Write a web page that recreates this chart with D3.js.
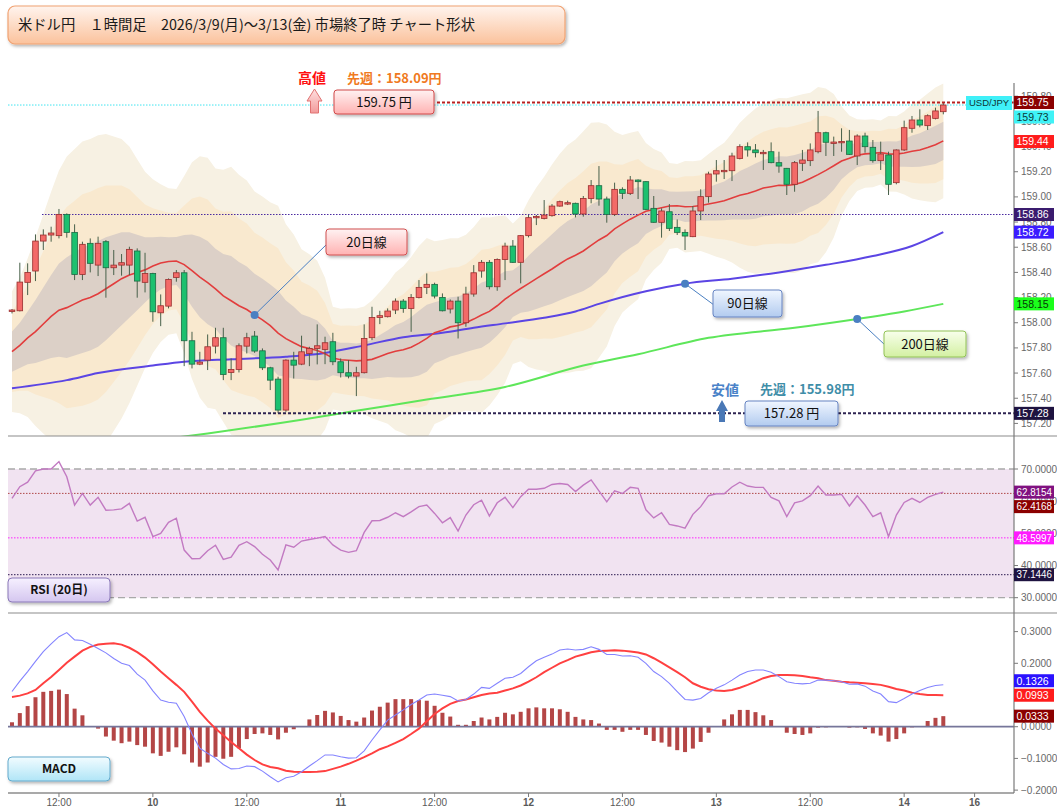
<!DOCTYPE html>
<html>
<head>
<meta charset="utf-8">
<script src="https://cdn.jsdelivr.net/npm/d3@7/dist/d3.min.js"></script>
<style>
html,body{margin:0;padding:0;background:#fff;}
svg{display:block;font-family:"Liberation Sans",Arial,sans-serif;}
</style>
</head>
<body>
<svg id="chart" width="1057" height="811"></svg>
<script>
// ================= DATA =================
const titleText = "米ドル円　１時間足　2026/3/9(月)～3/13(金) 市場終了時 チャート形状";

// hourly candles, 3/9 06:00 .. 3/14 05:00 (JST)
const openP = [158.090,158.095,158.321,158.411,158.649,158.697,158.692,158.861,158.718,158.384,
158.631,158.458,158.644,158.437,158.458,158.458,158.570,158.321,158.392,158.079,
158.132,158.360,158.397,157.857,157.671,157.703,157.814,157.881,157.605,157.629,
157.814,157.894,157.777,157.642,157.552,157.306,157.703,157.671,157.756,157.796,
157.788,157.849,157.690,157.603,157.576,157.603,157.881,158.042,158.048,158.101,
158.172,158.114,158.201,158.281,158.305,158.201,158.109,158.172,158.000,158.228,
158.411,158.480,158.286,158.503,158.609,158.480,158.692,158.835,158.829,158.851,
158.927,158.949,158.949,158.864,158.988,159.089,158.983,158.861,159.060,159.028,
159.134,159.121,158.909,158.798,158.882,158.758,158.718,158.684,158.888,159.002,
159.182,159.206,159.208,159.306,159.399,159.373,159.349,159.359,159.272,159.227,
159.100,159.267,159.288,159.359,159.510,159.431,159.431,159.444,159.325,159.484,
159.394,159.288,159.333,159.113,159.373,159.545,159.611,159.566,159.624,159.677];
const highP = [158.109,158.477,158.472,158.702,158.742,158.763,158.904,158.869,158.782,158.644,
158.670,158.684,158.657,158.578,158.546,158.604,158.591,158.556,158.397,158.225,
158.352,158.419,158.419,157.928,157.769,157.907,157.960,157.960,157.716,157.836,
157.920,157.934,157.796,157.650,157.571,157.709,157.769,157.897,157.809,157.987,
157.889,157.920,157.716,157.703,157.650,157.987,158.127,158.095,158.114,158.193,
158.188,158.228,158.339,158.392,158.318,158.233,158.185,158.207,158.286,158.458,
158.498,158.498,158.511,158.636,158.657,158.697,158.856,158.856,158.975,158.943,
158.970,158.970,158.954,159.007,159.134,159.245,159.002,159.113,159.076,159.166,
159.139,159.125,159.007,158.909,158.943,158.821,158.742,158.927,159.060,159.200,
159.293,159.293,159.351,159.418,159.433,159.420,159.373,159.433,159.359,159.230,
159.285,159.373,159.425,159.683,159.518,159.479,159.545,159.532,159.497,159.510,
159.452,159.439,159.359,159.378,159.606,159.643,159.696,159.656,159.709,159.750];
const lowP = [158.074,158.090,158.220,158.331,158.578,158.644,158.670,158.676,158.339,158.339,
158.400,158.371,158.199,158.379,158.374,158.379,158.199,158.241,158.008,157.973,
158.114,158.326,157.655,157.637,157.663,157.624,157.756,157.544,157.544,157.605,
157.756,157.761,157.624,157.465,157.282,157.292,157.557,157.663,157.655,157.669,
157.671,157.663,157.565,157.558,157.417,157.597,157.862,157.989,158.042,158.069,
158.079,157.928,158.193,158.228,158.193,158.090,158.074,157.875,157.968,158.207,
158.358,158.265,158.254,158.339,158.475,158.313,158.678,158.776,158.821,158.843,
158.922,158.935,158.837,158.843,158.949,158.930,158.795,158.848,158.983,159.015,
158.983,158.896,158.795,158.676,158.729,158.697,158.578,158.680,158.816,158.954,
159.121,159.142,159.126,159.298,159.320,159.314,159.214,159.267,159.192,159.015,
159.041,159.206,159.245,159.346,159.325,159.325,159.359,159.333,159.253,159.351,
159.272,159.214,159.015,159.100,159.365,159.510,159.553,159.532,159.616,159.656];
const closeP = [158.101,158.323,158.400,158.649,158.697,158.713,158.861,158.718,158.384,158.623,
158.472,158.631,158.437,158.458,158.477,158.583,158.331,158.392,158.087,158.135,
158.344,158.397,157.857,157.671,157.687,157.809,157.881,157.589,157.629,157.817,
157.881,157.775,157.642,157.544,157.306,157.703,157.663,157.769,157.796,157.817,
157.841,157.690,157.603,157.576,157.603,157.875,158.042,158.056,158.093,158.172,
158.114,158.201,158.281,158.305,158.212,158.095,158.172,158.000,158.228,158.397,
158.480,158.286,158.503,158.609,158.480,158.692,158.835,158.845,158.856,158.927,
158.962,158.954,158.864,158.988,159.089,158.983,158.861,159.060,159.028,159.134,
159.121,158.901,158.798,158.888,158.750,158.718,158.689,158.888,159.002,159.182,
159.208,159.211,159.325,159.399,159.373,159.351,159.354,159.272,159.245,159.100,
159.272,159.293,159.373,159.510,159.434,159.436,159.441,159.338,159.484,159.399,
159.288,159.341,159.100,159.373,159.550,159.611,159.571,159.645,159.683,159.730];

// 20-period line and band width (1 sigma) read per candle
const ma20 = [157.77,157.82,157.88,157.93,157.99,158.05,158.10,158.12,158.15,158.18,
158.20,158.23,158.27,158.31,158.35,158.38,158.40,158.42,158.45,158.474,
158.486,158.490,158.462,158.414,158.363,158.318,158.269,158.213,158.175,158.135,
158.105,158.062,158.023,157.977,157.918,157.874,157.841,157.810,157.795,157.779,
157.754,157.719,157.706,157.702,157.697,157.701,157.709,157.732,157.755,157.773,
157.785,157.806,157.838,157.876,157.921,157.941,157.967,157.978,158.000,158.029,
158.061,158.090,158.135,158.187,158.231,158.272,158.311,158.351,158.389,158.427,
158.469,158.507,158.536,158.570,158.614,158.658,158.693,158.746,158.786,158.823,
158.855,158.886,158.900,158.914,158.928,158.929,158.922,158.924,158.931,158.944,
158.956,158.969,158.992,159.013,159.027,159.046,159.070,159.081,159.092,159.090,
159.098,159.117,159.146,159.177,159.211,159.247,159.285,159.307,159.331,159.342,
159.346,159.353,159.342,159.340,159.349,159.362,159.373,159.392,159.414,159.445];
const bbSigma = [0.16,0.18,0.21,0.25,0.29,0.33,0.37,0.40,0.41,0.42,
0.42,0.42,0.41,0.39,0.37,0.34,0.30,0.26,0.23,0.209,
0.194,0.191,0.235,0.287,0.320,0.331,0.319,0.334,0.355,0.347,
0.342,0.327,0.327,0.327,0.337,0.303,0.287,0.258,0.250,0.238,
0.201,0.136,0.135,0.138,0.139,0.143,0.156,0.171,0.186,0.209,
0.221,0.239,0.257,0.266,0.242,0.239,0.235,0.231,0.233,0.244,
0.259,0.249,0.237,0.222,0.186,0.193,0.221,0.241,0.257,0.277,
0.291,0.302,0.307,0.317,0.325,0.312,0.294,0.257,0.235,0.229,
0.223,0.181,0.160,0.146,0.114,0.111,0.121,0.120,0.120,0.132,
0.144,0.154,0.171,0.192,0.207,0.219,0.224,0.228,0.231,0.231,
0.234,0.233,0.227,0.232,0.217,0.190,0.145,0.113,0.095,0.090,
0.090,0.085,0.100,0.100,0.110,0.125,0.133,0.143,0.152,0.152];

// 90 / 200 lines (sampled along the curve)
const ma90Idx = [0,7,11,18,22,28,35,40,45,50,55,59,63,68,72,75,81,86,92,98,104,110,115,119];
const ma90Val = [157.48,157.544,157.60,157.66,157.69,157.71,157.73,157.76,157.82,157.885,157.92,157.96,157.995,158.04,158.09,158.15,158.25,158.31,158.35,158.40,158.46,158.53,158.61,158.72];
const ma200Idx = [15,25,37,44,53,63,73,80,89,100,108,114,119];
const ma200Val = [157.04,157.12,157.23,157.30,157.39,157.49,157.66,157.75,157.88,157.96,158.03,158.09,158.15];

// RSI(20)
const rsi = [60.9,64.5,65.9,69.4,70.0,70.0,72.3,67.6,58.8,62.4,
58.8,61.2,57.2,57.3,57.6,59.3,53.8,55.0,49.0,50.0,
53.4,54.7,44.8,42.1,42.2,44.6,46.3,41.9,42.6,46.3,
47.4,45.9,43.5,41.7,38.6,46.4,45.7,47.6,48.1,48.5,
49.0,46.4,44.8,44.1,44.6,50.3,53.9,54.0,55.0,56.4,
55.2,56.7,58.3,58.8,56.2,53.3,54.9,50.7,55.7,58.9,
60.3,55.4,59.5,61.2,58.0,61.4,63.7,63.7,64.0,65.2,
65.5,65.2,63.0,65.0,66.6,63.2,59.8,63.2,62.4,64.3,
64.0,57.3,54.8,56.4,52.8,52.3,51.6,55.9,58.3,61.7,
62.3,62.3,64.4,65.9,64.7,64.3,64.3,61.2,60.1,55.2,
59.5,60.1,61.7,64.7,61.9,61.9,62.1,58.5,61.7,58.8,
55.2,56.4,49.0,55.7,59.6,60.9,59.6,61.2,62.1,62.8];

// MACD
const macd = [0.111,0.144,0.174,0.206,0.237,0.261,0.284,0.297,0.274,0.272,
0.260,0.247,0.233,0.215,0.200,0.193,0.166,0.147,0.113,0.084,
0.077,0.074,0.032,-0.023,-0.068,-0.084,-0.099,-0.119,-0.133,-0.132,
-0.124,-0.126,-0.140,-0.158,-0.174,-0.161,-0.156,-0.142,-0.124,-0.107,
-0.089,-0.089,-0.095,-0.099,-0.098,-0.076,-0.042,-0.010,0.021,0.037,
0.053,0.070,0.084,0.100,0.103,0.099,0.095,0.081,0.086,0.103,
0.124,0.121,0.137,0.153,0.156,0.168,0.189,0.208,0.219,0.229,
0.242,0.245,0.242,0.244,0.252,0.244,0.228,0.228,0.223,0.224,
0.219,0.200,0.174,0.158,0.137,0.111,0.086,0.084,0.089,0.107,
0.121,0.132,0.147,0.163,0.174,0.179,0.179,0.172,0.158,0.142,
0.137,0.135,0.137,0.147,0.147,0.145,0.142,0.134,0.135,0.128,
0.113,0.103,0.079,0.076,0.089,0.103,0.114,0.124,0.130,0.1326];
const signal = [0.094,0.098,0.105,0.116,0.137,0.157,0.179,0.202,0.221,0.240,
0.252,0.259,0.262,0.263,0.259,0.249,0.235,0.218,0.197,0.174,
0.153,0.132,0.110,0.079,0.047,0.019,-0.006,-0.027,-0.048,-0.068,
-0.088,-0.105,-0.119,-0.127,-0.131,-0.139,-0.142,-0.143,-0.143,-0.142,
-0.140,-0.133,-0.126,-0.117,-0.107,-0.096,-0.084,-0.071,-0.062,-0.051,
-0.039,-0.023,-0.006,0.017,0.040,0.058,0.072,0.081,0.086,0.093,
0.100,0.105,0.107,0.114,0.121,0.130,0.142,0.156,0.172,0.186,
0.200,0.210,0.221,0.228,0.235,0.239,0.240,0.241,0.240,0.237,
0.234,0.228,0.216,0.202,0.187,0.172,0.156,0.137,0.126,0.118,
0.114,0.113,0.116,0.123,0.132,0.142,0.153,0.160,0.163,0.163,
0.162,0.160,0.156,0.153,0.147,0.145,0.142,0.140,0.139,0.137,
0.135,0.132,0.126,0.119,0.114,0.107,0.103,0.100,0.100,0.0993];
const hist = [0.014,0.043,0.065,0.093,0.110,0.113,0.117,0.103,0.057,0.036,
0.002,-0.006,-0.031,-0.044,-0.052,-0.047,-0.058,-0.063,-0.084,-0.092,
-0.079,-0.065,-0.087,-0.113,-0.126,-0.113,-0.095,-0.101,-0.095,-0.068,
-0.039,-0.023,-0.021,-0.026,-0.040,-0.019,-0.008,0.001,0.023,0.037,
0.050,0.045,0.034,0.021,0.016,0.029,0.051,0.063,0.076,0.087,
0.087,0.087,0.084,0.082,0.066,0.044,0.032,0.006,0.006,0.018,
0.029,0.023,0.031,0.044,0.039,0.047,0.058,0.061,0.058,0.058,
0.055,0.047,0.031,0.023,0.021,0.010,-0.010,-0.010,-0.016,-0.010,
-0.010,-0.026,-0.045,-0.050,-0.063,-0.074,-0.080,-0.069,-0.048,-0.019,
0.001,0.023,0.039,0.053,0.053,0.046,0.036,0.021,0.001,-0.019,
-0.023,-0.026,-0.021,-0.003,-0.002,0.000,0.000,-0.003,-0.002,-0.007,
-0.021,-0.028,-0.047,-0.039,-0.021,-0.002,0.002,0.018,0.028,0.0333];

// axes
const xTickIdx  = [6,18,30,42,54,66,78,90,102,114,123];
const xTickText = ["12:00","10","12:00","11","12:00","12","12:00","13","12:00","14","16"];
const priceTicks = [157.2,157.4,157.6,157.8,158.0,158.2,158.4,158.6,158.8,159.0,159.2,159.4,159.6,159.8];
const rsiTicks = [30,40,50,60,70];
const macdTicks = [-0.2,-0.1,0,0.1,0.2,0.3];

// reference levels / last values
const priceMarks = [159.75,159.73,159.44,158.86,158.72,158.15,157.28];
const rsiMarks = [62.8154,62.4168,48.5997,37.1446];
const macdMarks = [0.0993,0.1326,0.0333];
const rsiLevels = [62.4168,48.5997,37.1446];
const weekHigh = 159.75, weekLow = 157.28, lastPrice = 159.73, refLevel = 158.86;
const prevHigh = "158.09", prevLow = "155.98";
const symbol = "USD/JPY";

// ================= LAYOUT / STYLE =================
const L = 8, R = 1014, TOP = 83, MAIN_B = 436, RSI_B = 613, MACD_B = 793;
const svg = d3.select("#chart");
const defs = svg.append("defs");
const JP = "'Noto Sans CJK JP','Noto Sans',sans-serif";

function grad(id, c1, c2) {
  const g = defs.append("linearGradient").attr("id", id)
    .attr("x1", 0).attr("y1", 0).attr("x2", 0).attr("y2", 1);
  g.append("stop").attr("offset", "0%").attr("stop-color", c1);
  g.append("stop").attr("offset", "100%").attr("stop-color", c2);
}
grad("gTitle", "#fff4ee", "#fbc29c");
grad("gPink", "#fff2f2", "#ffb2b2");
grad("gBlue", "#f0f6ff", "#b2cbef");
grad("gGreen", "#f8ffec", "#d3f0a2");
grad("gLav", "#f6f0ff", "#d4c6ef");
grad("gCyan", "#f2fcff", "#b0e5f7");
grad("gArrow", "#ffe0e0", "#f29a9a");
const flt = defs.append("filter").attr("id", "sh")
  .attr("x", "-10%").attr("y", "-20%").attr("width", "130%").attr("height", "160%");
flt.append("feDropShadow").attr("dx", 1.5).attr("dy", 2).attr("stdDeviation", 1.4)
  .attr("flood-color", "#000").attr("flood-opacity", 0.28);
function clip(id, y0, y1) {
  defs.append("clipPath").attr("id", id).append("rect")
    .attr("x", L).attr("y", y0).attr("width", R - L).attr("height", y1 - y0);
}
clip("cMain", TOP, MAIN_B); clip("cRsi", MAIN_B, RSI_B); clip("cMacd", RSI_B, MACD_B);

// scales
const N = closeP.length;
const I = d3.range(N);
const x = d3.scaleLinear().domain([0, 119]).range([12, 943.3]);
const y = d3.scaleLinear().domain([157.10, 159.905]).range([MAIN_B, TOP]);
const yR = d3.scaleLinear().domain([25.24, 80.26]).range([RSI_B, MAIN_B]);
const yM = d3.scaleLinear().domain([-0.2091, 0.3587]).range([MACD_B, RSI_B]);

// ---------- MAIN PANEL ----------
const gm = svg.append("g").attr("clip-path", "url(#cMain)");
[[3, "#f7f1e3"], [2, "#f9e9cf"], [1, "#dcd0c7"]].forEach(([k, c]) => {
  gm.append("path").datum(I).attr("fill", c)
    .attr("d", d3.area().x(i => x(i))
      .y0(i => y(ma20[i] - k * bbSigma[i]))
      .y1(i => y(ma20[i] + k * bbSigma[i])));
});
// reference dotted lines
gm.append("line").attr("x1", 42).attr("x2", R).attr("y1", y(refLevel)).attr("y2", y(refLevel))
  .attr("stroke", "#4a2aa0").attr("stroke-width", 1).attr("stroke-dasharray", "1.5,1.5");
gm.append("line").attr("x1", L).attr("x2", 966).attr("y1", y(lastPrice)).attr("y2", y(lastPrice))
  .attr("stroke", "#3fe4f0").attr("stroke-width", 1).attr("stroke-dasharray", "1.5,1.5");

const lineXY = d3.line().curve(d3.curveMonotoneX);
gm.append("path").attr("fill", "none").attr("stroke", "#5ee65a").attr("stroke-width", 2)
  .attr("d", lineXY(ma200Idx.map((d, j) => [x(d), y(ma200Val[j])])));
gm.append("path").attr("fill", "none").attr("stroke", "#5b45e4").attr("stroke-width", 2)
  .attr("d", lineXY(ma90Idx.map((d, j) => [x(d), y(ma90Val[j])])));
gm.append("path").datum(I).attr("fill", "none").attr("stroke", "#e23d3d").attr("stroke-width", 1.6)
  .attr("d", d3.line().x(i => x(i)).y(i => y(ma20[i])));

// candles
const bw = 5.6;
const cg = gm.append("g");
cg.selectAll("line.w").data(I).join("line").attr("class", "w")
  .attr("x1", i => x(i)).attr("x2", i => x(i))
  .attr("y1", i => y(highP[i])).attr("y2", i => y(lowP[i]))
  .attr("stroke", "#48604a").attr("stroke-width", 1);
cg.selectAll("rect.b").data(I).join("rect").attr("class", "b")
  .attr("x", i => x(i) - bw / 2).attr("width", bw)
  .attr("y", i => y(Math.max(openP[i], closeP[i])))
  .attr("height", i => Math.max(1.4, Math.abs(y(openP[i]) - y(closeP[i]))))
  .attr("fill", i => closeP[i] >= openP[i] ? "#f36a68" : "#1cc06f")
  .attr("stroke", i => closeP[i] >= openP[i] ? "#9a2e2e" : "#1d6a44")
  .attr("stroke-width", 0.8);

// high / low dashed lines
gm.append("line").attr("x1", 437).attr("x2", R).attr("y1", y(weekHigh)).attr("y2", y(weekHigh))
  .attr("stroke", "#b82020").attr("stroke-width", 2).attr("stroke-dasharray", "3,2");
gm.append("line").attr("x1", 223).attr("x2", R).attr("y1", y(weekLow)).attr("y2", y(weekLow))
  .attr("stroke", "#2e2452").attr("stroke-width", 2).attr("stroke-dasharray", "3,2");

// ---------- RSI PANEL ----------
const gr = svg.append("g").attr("clip-path", "url(#cRsi)");
gr.append("rect").attr("x", L).attr("width", R - L).attr("y", yR(70)).attr("height", yR(30) - yR(70))
  .attr("fill", "#f1e3f1");
[70, 30].forEach(v => gr.append("line").attr("x1", L).attr("x2", R).attr("y1", yR(v)).attr("y2", yR(v))
  .attr("stroke", "#a9a9a9").attr("stroke-width", 1.3).attr("stroke-dasharray", "7,4"));
const rsiLvlColor = ["#b04848", "#ff22ff", "#2a1a50"];
rsiLevels.forEach((v, j) => gr.append("line").attr("x1", L).attr("x2", R).attr("y1", yR(v)).attr("y2", yR(v))
  .attr("stroke", rsiLvlColor[j]).attr("stroke-width", 1).attr("stroke-dasharray", "1.5,1.5"));
gr.append("path").datum(I).attr("fill", "none").attr("stroke", "#c27ac2").attr("stroke-width", 1.4)
  .attr("d", d3.line().x(i => x(i)).y(i => yR(rsi[i])));

// ---------- MACD PANEL ----------
const gc = svg.append("g").attr("clip-path", "url(#cMacd)");
gc.selectAll("rect.h").data(I).join("rect").attr("class", "h")
  .attr("x", i => x(i) - 2).attr("width", 4)
  .attr("y", i => Math.min(yM(0), yM(hist[i])))
  .attr("height", i => Math.abs(yM(hist[i]) - yM(0)))
  .attr("fill", "#b44646");
gc.append("line").attr("x1", L).attr("x2", R).attr("y1", yM(0)).attr("y2", yM(0))
  .attr("stroke", "#76769a").attr("stroke-width", 1.8);
gc.append("path").datum(I).attr("fill", "none").attr("stroke", "#ff4040").attr("stroke-width", 2)
  .attr("d", d3.line().x(i => x(i)).y(i => yM(signal[i])));
gc.append("path").datum(I).attr("fill", "none").attr("stroke", "#8484ff").attr("stroke-width", 1.1)
  .attr("d", d3.line().x(i => x(i)).y(i => yM(macd[i])));

// ---------- FRAMES & AXES ----------
const fr = svg.append("g");
[MAIN_B, RSI_B].forEach(v => fr.append("line").attr("x1", L).attr("x2", 1057).attr("y1", v).attr("y2", v)
  .attr("stroke", "#8c8c8c").attr("stroke-width", 1.2));
fr.append("line").attr("x1", L).attr("x2", R).attr("y1", MACD_B).attr("y2", MACD_B)
  .attr("stroke", "#8c8c8c").attr("stroke-width", 1.6);
fr.append("line").attr("x1", R).attr("x2", R).attr("y1", TOP).attr("y2", MACD_B)
  .attr("stroke", "#7a7a7a").attr("stroke-width", 1.2);

function yTicks(vals, sc, fmt) {
  vals.forEach(v => {
    fr.append("line").attr("x1", R).attr("x2", R + 4).attr("y1", sc(v)).attr("y2", sc(v))
      .attr("stroke", "#7a7a7a");
    fr.append("text").attr("x", R + 7).attr("y", sc(v)).attr("dy", "0.35em")
      .attr("font-size", 10).attr("fill", "#686868").text(fmt(v));
  });
}
yTicks(priceTicks, y, d3.format(".2f"));
yTicks(rsiTicks, yR, d3.format(".4f"));
yTicks(macdTicks, yM, d3.format(".4f"));

xTickIdx.forEach((t, j) => {
  const isDay = xTickText[j].indexOf(":") < 0;
  fr.append("line").attr("x1", x(t)).attr("x2", x(t)).attr("y1", MACD_B).attr("y2", MACD_B + 4)
    .attr("stroke", "#7a7a7a");
  fr.append("text").attr("x", x(t)).attr("y", 806).attr("text-anchor", "middle")
    .attr("font-size", 10).attr("font-weight", isDay ? "bold" : "normal")
    .attr("fill", "#5a5a5a").text(xTickText[j]);
});

// value tags on the right axis
function tags(vals, sc, fmt, styles) {
  const placed = [];
  vals.forEach((v, j) => {
    let cy = sc(v);
    for (let it = 0; it < 8; it++) {
      let moved = false;
      placed.forEach(p => {
        if (Math.abs(cy - p) < 14.5) { cy = cy >= p ? p + 14.5 : p - 14.5; moved = true; }
      });
      if (!moved) break;
    }
    placed.push(cy);
    const s = fmt(v);
    fr.append("rect").attr("x", R).attr("y", cy - 6.5).attr("width", 40).attr("height", 13)
      .attr("fill", styles[j][0]);
    const t = fr.append("text").attr("x", R + 2.5).attr("y", cy).attr("dy", "0.36em")
      .attr("font-size", 10.5).attr("fill", styles[j][1]).text(s);
    if (s.length > 6) t.attr("textLength", 35.5).attr("lengthAdjust", "spacingAndGlyphs");
  });
}
tags(priceMarks, y, d3.format(".2f"), [["#8b0000", "#fff"], ["#3ff2f6", "#0c3a3a"], ["#ff1c1c", "#fff"],
  ["#3a1b6e", "#fff"], ["#3b1cff", "#fff"], ["#1bff1b", "#063806"], ["#1e1340", "#fff"]]);
tags(rsiMarks, yR, d3.format(".4f"), [["#801280", "#fff"], ["#8b0000", "#fff"], ["#ff1aff", "#fff"], ["#1e1340", "#fff"]]);
tags(macdMarks, yM, d3.format(".4f"), [["#ff1c1c", "#fff"], ["#2a12ff", "#fff"], ["#8b0000", "#fff"]]);

// symbol tag
fr.append("rect").attr("x", 966).attr("y", 96).attr("width", 46).attr("height", 14).attr("fill", "#3ff0f8");
fr.append("text").attr("x", 989).attr("y", 103).attr("dy", "0.36em").attr("text-anchor", "middle")
  .attr("font-size", 9.5).attr("fill", "#0f3434").text(symbol);

// ---------- ANNOTATIONS ----------
const an = svg.append("g");
function box(x0, y0, w, h, fill, stroke, txt, opt = {}) {
  an.append("rect").attr("x", x0).attr("y", y0).attr("width", w).attr("height", h)
    .attr("rx", opt.rx || 3).attr("fill", fill).attr("stroke", stroke).attr("stroke-width", 1)
    .attr("filter", "url(#sh)");
  an.append("text").attr("x", x0 + w / 2).attr("y", y0 + h / 2).attr("dy", "0.36em")
    .attr("text-anchor", "middle").attr("font-family", JP).attr("font-size", opt.fs || 13)
    .attr("font-weight", opt.fw || "normal").attr("fill", "#111").text(txt);
}
// title
an.append("rect").attr("x", 8).attr("y", 6).attr("width", 557).attr("height", 38).attr("rx", 7)
  .attr("fill", "url(#gTitle)").attr("stroke", "#f0a272").attr("stroke-width", 1.2).attr("filter", "url(#sh)");
an.append("text").attr("x", 18).attr("y", 25).attr("dy", "0.36em").attr("font-family", JP)
  .attr("font-size", 14.3).attr("fill", "#1a1a1a").text(titleText);

// high annotation
an.append("text").attr("x", 298).attr("y", 78).attr("dy", "0.36em").attr("font-family", JP)
  .attr("font-size", 14).attr("font-weight", "bold").attr("fill", "#ff1010").text("高値");
an.append("text").attr("x", 347).attr("y", 78).attr("dy", "0.36em").attr("font-family", JP)
  .attr("font-size", 13).attr("font-weight", "bold").attr("fill", "#f07a22").text("先週：" + prevHigh + "円");
an.append("path").attr("d", "M307,101 L314.5,89 L322,101 L318.5,101 L318.5,113 L310.5,113 L310.5,101 Z")
  .attr("fill", "url(#gArrow)").attr("stroke", "#e07272").attr("stroke-width", 1);
box(334, 90, 100, 24, "url(#gPink)", "#d04848", d3.format(".2f")(weekHigh) + " 円");

// low annotation
an.append("text").attr("x", 711).attr("y", 390).attr("dy", "0.36em").attr("font-family", JP)
  .attr("font-size", 14).attr("font-weight", "bold").attr("fill", "#4a82c8").text("安値");
an.append("text").attr("x", 760).attr("y", 389).attr("dy", "0.36em").attr("font-family", JP)
  .attr("font-size", 13).attr("font-weight", "bold").attr("fill", "#3f8ea8").text("先週：" + prevLow + "円");
an.append("path").attr("d", "M716,411 L722,400 L728,411 L725,411 L725,422 L719,422 L719,411 Z")
  .attr("fill", "#4a78b6");
box(745, 401, 93, 25, "url(#gBlue)", "#6684c2", d3.format(".2f")(weekLow) + " 円");

// MA callouts
function callout(px, py, bx, by, x0, y0, w, h, fill, stroke, txt) {
  an.append("line").attr("x1", px).attr("y1", py).attr("x2", bx).attr("y2", by)
    .attr("stroke", "#4a7fc2").attr("stroke-width", 1);
  an.append("circle").attr("cx", px).attr("cy", py).attr("r", 4).attr("fill", "#4a7fc2");
  box(x0, y0, w, h, fill, stroke, txt);
}
callout(x(31), y(ma20[31]), 327, 244, 326, 229, 81, 26, "url(#gPink)", "#d05050", "20日線");
callout(x(86), y(ma90Val[ma90Idx.indexOf(86)]), 714, 305, 713, 290, 69, 27, "url(#gBlue)", "#6684c2", "90日線");
callout(x(108), y(ma200Val[ma200Idx.indexOf(108)]), 885, 345, 884, 331, 82, 26, "url(#gGreen)", "#92c256", "200日線");

// panel name tags
box(8, 578, 102, 24, "url(#gLav)", "#8a78b8", "RSI (20日)", { fw: "bold", fs: 12, rx: 4 });
box(8, 757, 102, 24, "url(#gCyan)", "#64aacc", "MACD", { fw: "bold", fs: 12, rx: 4 });
</script>
</body>
</html>
